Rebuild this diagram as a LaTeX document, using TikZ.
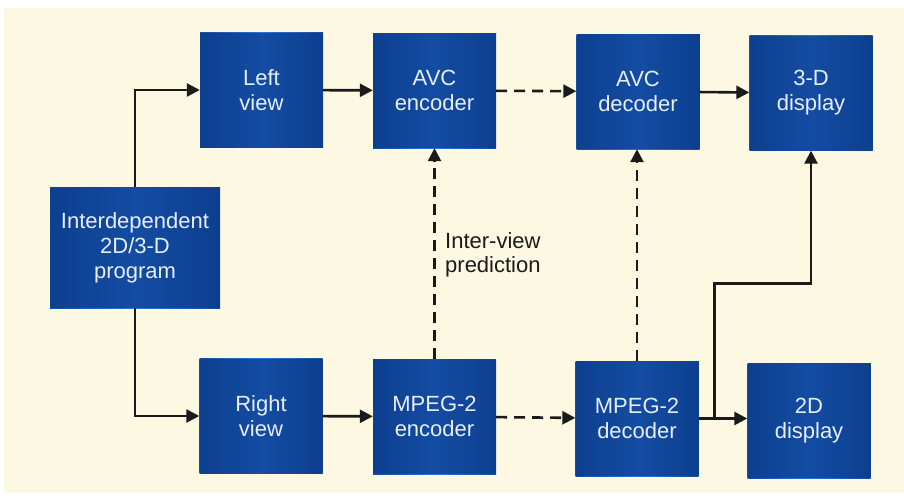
\documentclass[tikz,border=0pt]{standalone}
\usepackage{fontspec}
\setmainfont{Liberation Sans}
\usetikzlibrary{arrows.meta,fadings,calc}
\definecolor{bgcream}{HTML}{FCF8E2}
\definecolor{boxdark}{HTML}{0A3784}
\definecolor{boxlight}{HTML}{2676DC}
\definecolor{boxtext}{HTML}{E6EEFF}
\definecolor{inkc}{HTML}{1A1A1A}
\pgfdeclarehorizontalshading{boxh}{100bp}{color(0bp)=(boxdark); color(20bp)=(boxdark!75!boxlight); color(50bp)=(boxlight); color(80bp)=(boxdark!75!boxlight); color(100bp)=(boxdark)}
\tikzfading[name=vedge, top color=transparent!35, middle color=transparent!100, bottom color=transparent!35]
\tikzset{
  blk/.style={rectangle, minimum width=123pt, minimum height=115pt, inner sep=0pt,
    align=center, text=boxtext, font=\fontsize{22}{25}\selectfont,
    preaction={shading=boxh},
    postaction={fill=boxdark, path fading=vedge}},
  wblk/.style={blk, minimum width=170pt, minimum height=121pt},
  conn/.style={line width=2.6pt, draw=inkc},
  arr/.style={conn, -{Triangle[length=13pt,width=13pt]}},
  dsh/.style={dash pattern=on 11pt off 7pt},
  lbl/.style={inner sep=0pt, align=left, text=inkc, font=\fontsize{22}{24}\selectfont}
}
\begin{document}
\begin{tikzpicture}[x=1pt,y=-1pt]
\useasboundingbox (0,0) rectangle (904,498);
\fill[white] (0,0) rectangle (904,498);
\fill[bgcream] (4,8) rectangle (904,493);
% nodes
\node[wblk] (prog) at (135,247.5) {Interdependent\\2D/3-D\\program};
\node[blk] (left) at (261.5,90) {Left\\view};
\node[blk] (avce) at (434.5,90.5) {AVC\\encoder};
\node[blk] (avcd) at (638,91.5) {AVC\\decoder};
\node[blk] (disp3) at (811,93) {3-D\\display};
\node[blk] (right) at (261,416) {Right\\view};
\node[blk] (mpe) at (434.5,416.5) {MPEG-2\\encoder};
\node[blk] (mpd) at (637,418.5) {MPEG-2\\decoder};
\node[blk] (disp2) at (809,420.5) {2D\\display};
\node[lbl, anchor=west] (ivp) at (445,255) {Inter-view\\prediction};
% connectors
\draw[arr] (prog.north) |- (left.west);
\draw[arr] (prog.south) |- (right.west);
\draw[arr] (left) -- (avce);
\draw[arr,dsh] (avce) -- (avcd);
\draw[arr] (avcd) -- (disp3);
\draw[arr] (right) -- (mpe);
\draw[arr,dsh] (mpe) -- (mpd);
\draw[arr] (mpd.east) -- (disp2.west |- mpd.east);
\draw[arr,dsh] (mpe.north) -- (avce.south -| mpe.north);
\draw[arr,dsh] (mpd.north) -- (avcd.south -| mpd.north);
\coordinate (br) at ($(mpd.east)!0.33!(disp2.west |- mpd.east)$);
\coordinate (bend) at ($(br)+(0,-135)$);
\draw[arr] (br) -- (bend) -| (disp3.south);
\end{tikzpicture}
\end{document}
